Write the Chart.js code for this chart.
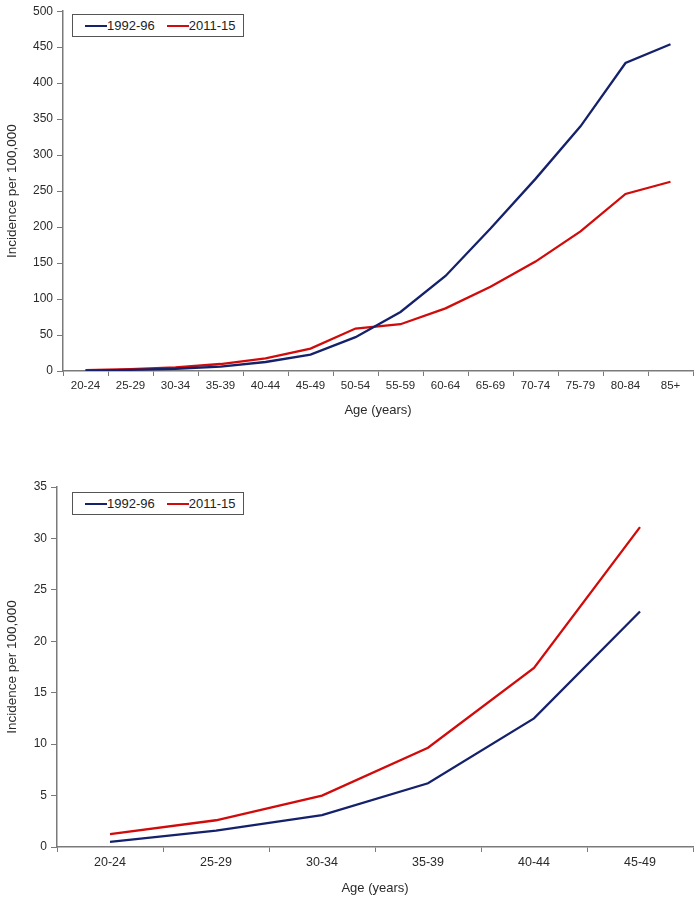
<!DOCTYPE html>
<html>
<head>
<meta charset="utf-8">
<script src="https://cdn.jsdelivr.net/npm/chart.js@4.4.0/dist/chart.umd.min.js"></script>
<style>
  body { margin: 0; background: #fff; font-family: "Liberation Sans", Arial, sans-serif; }
  .wrap { position: absolute; left: 0; width: 700px; }
  .legend {
    position: absolute; left: 72px; width: 170px; height: 21px;
    border: 1px solid #555; background: #fff;
    font-size: 13px; color: #222; line-height: 21px; white-space: nowrap;
  }
  .legend span.sw { display: inline-block; width: 22px; height: 2px; vertical-align: middle; margin-top: -2px; }
  .legend span.tx { margin-right: 12px; }
</style>
</head>
<body>
<div class="wrap" style="top:0;height:420px">
  <canvas id="top"></canvas>
  <div class="legend" id="legTop" style="top:14px"></div>
</div>
<div class="wrap" style="top:440px;height:461px">
  <canvas id="bottom"></canvas>
  <div class="legend" id="legBottom" style="top:52px"></div>
</div>
<script>
// age groups
var agesAll = ['20-24', '25-29', '30-34', '35-39', '40-44', '45-49', '50-54', '55-59', '60-64', '65-69', '70-74', '75-79', '80-84', '85+'];
var agesYoung = ['20-24', '25-29', '30-34', '35-39', '40-44', '45-49'];

// incidence per 100,000, all ages
var rate9296 = [0.5, 1.6, 3.1, 6.2, 12.5, 22.9, 47, 82, 132, 198, 267, 340, 428, 454];
var rate1115 = [1.3, 2.6, 5.0, 9.7, 17.4, 31.1, 59, 65, 87, 117, 152, 194, 246, 263];

// incidence per 100,000, under 50
var young9296 = [0.5, 1.6, 3.1, 6.2, 12.5, 22.9];
var young1115 = [1.25, 2.6, 5.0, 9.65, 17.4, 31.1];

var seriesNames = ['1992-96', '2011-15'];
var blue = '#15226b';
var red = '#d10a0a';
var axisGrey = '#7a7a7a';
var font = '"Liberation Sans", Arial, sans-serif';

Chart.defaults.font.family = font;
Chart.defaults.color = '#2a2a2a';

function makeLegend(id) {
  var el = document.getElementById(id);
  el.innerHTML =
    '<span class="sw" style="background:' + blue + ';margin-left:12px"></span><span class="tx">' + seriesNames[0] + '</span>' +
    '<span class="sw" style="background:' + red + '"></span><span class="tx">' + seriesNames[1] + '</span>';
}

function createChart(canvasId, labels, a, b, yMax, yStep, opts) {
  var ctx = document.getElementById(canvasId).getContext('2d');
  return new Chart(ctx, {
    type: 'line',
    data: {
      labels: labels,
      datasets: [
        { label: seriesNames[0], data: a, borderColor: blue, borderWidth: 2.3, pointRadius: 0, tension: 0, fill: false },
        { label: seriesNames[1], data: b, borderColor: red, borderWidth: 2.3, pointRadius: 0, tension: 0, fill: false }
      ]
    },
    options: {
      responsive: true,
      maintainAspectRatio: false,
      animation: false,
      layout: { padding: { top: opts.top, right: 7, left: 0, bottom: 0 } },
      plugins: { legend: { display: false }, tooltip: { enabled: false } },
      scales: {
        x: {
          offset: true,
          grid: { offset: true, drawOnChartArea: false, tickLength: 5, color: axisGrey, lineWidth: 1 },
          border: { color: axisGrey, width: 1.5 },
          ticks: { font: { size: opts.xf }, maxRotation: 0, autoSkip: false, padding: 3 },
          title: { display: true, text: 'Age (years)', font: { size: 13 }, padding: { top: 6, bottom: opts.tb } },
          afterFit: function(s) { s.height = opts.xh; }
        },
        y: {
          min: 0, max: yMax,
          grid: { drawOnChartArea: false, tickLength: 6, color: axisGrey, lineWidth: 1 },
          border: { color: axisGrey, width: 1.5 },
          ticks: { stepSize: yStep, font: { size: 12 }, padding: 4 },
          title: { display: true, text: 'Incidence per 100,000', font: { size: 13.5 }, padding: { top: 4, bottom: 0 } },
          afterFit: function(s) { s.width = opts.yw; }
        }
      }
    }
  });
}

createChart('top', agesAll, rate9296, rate1115, 500, 50, { top: 11, xh: 49, yw: 63, xf: 11.5, tb: 2 });
createChart('bottom', agesYoung, young9296, young1115, 35, 5, { top: 47, xh: 54, yw: 57, xf: 12.5, tb: 5 });
makeLegend('legTop');
makeLegend('legBottom');
</script>
</body>
</html>
